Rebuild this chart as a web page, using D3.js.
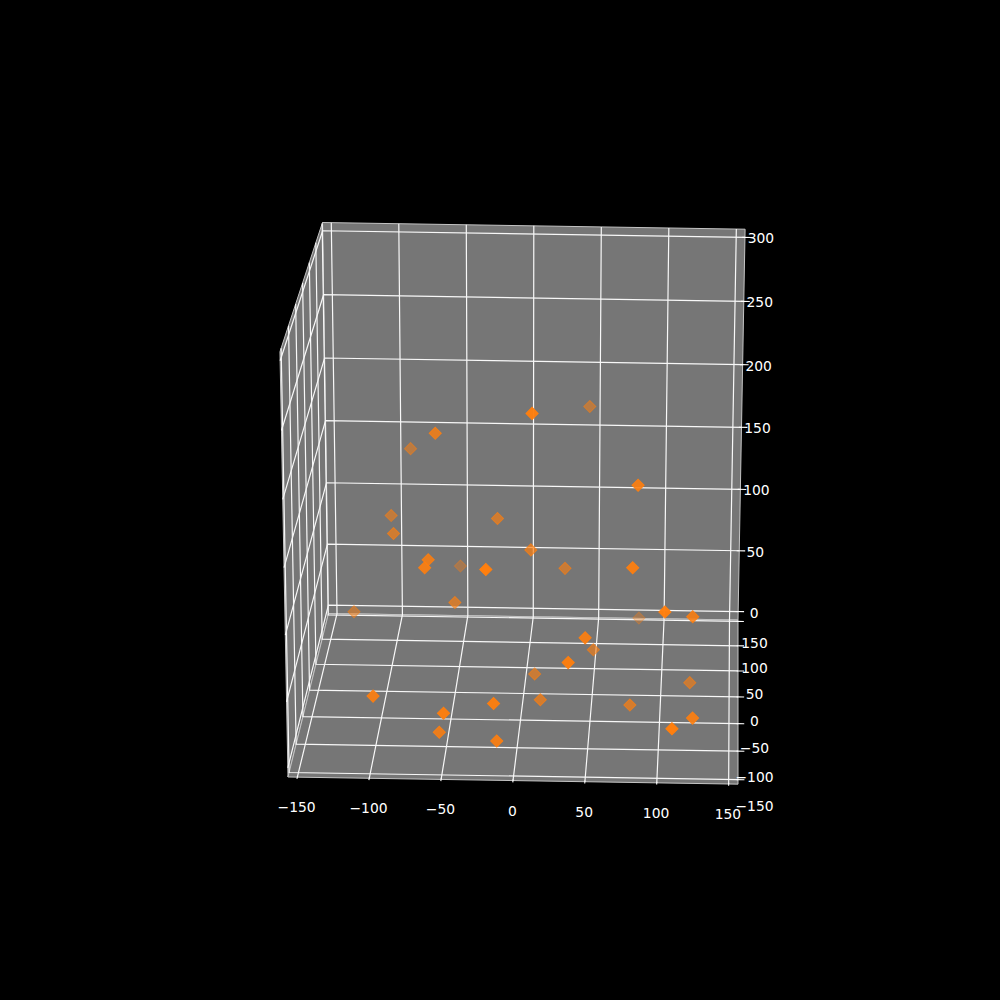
<!DOCTYPE html>
<html>
<head>
<meta charset="utf-8">
<script src="https://cdn.jsdelivr.net/npm/d3@7"></script>
<style>
  html, body { margin: 0; background: #000; }
  text { font-family: "DejaVu Sans"; font-size: 13.89px; fill: #fff; }
</style>
</head>
<body>
<svg id="chart" width="1000" height="1000"></svg>
<script>
// values, x / y / z of each marker
const pointX = [12, 45, -59, -86, 84, -99, -94, -19, 6, -63, -64, -54, -19, 29, 81, -50, -129,
  104, 123, 81, 48, 50, 37, 7, 121, -101, 13, -15, 78, -50, 124, 110, -56, -14];
const pointY = [-87, 114, -14, 114, -57, 93, 50, 50, 29, -36, -57, 179, -100, 71, -66, 50, 114,
  -91, -36, 191, -57, 71, -79, 71, 71, -57, 29, -79, 29, -79, -57, -100, -36, -57];
const pointZ = [258, 195, 217, 160, 196, 115, 117, 130, 114, 130, 132, 43, 148, 84, 138, 64, 30,
  115, 90, -2, 81, 20, 71, 0, -5, 34, -3, 39, -6, 31, 21, 31, -2, 1];

const xTicks = [-150, -100, -50, 0, 50, 100, 150];
const yTicks = [-100, -50, 0, 50, 100, 150, 200];
const yLabels = [-150, -100, -50, 0, 50, 100, 150];
const zTicks = [0, 50, 100, 150, 200, 250, 300];

const xLim = [-156.5, 156.5];
const yLim = [202.8, -107.8];   // back to front
const zLim = [-7, 306.4];

// box corners on the page, and the perspective weight of each axis
const corner0 = [328.5, 613.5];
const cornerX = [738, 620];
const cornerY = [288, 777];
const cornerZ = [322.5, 222.5];
const weightY = 0.91;
const weightZ = 0.969;

const scaleU = d3.scaleLinear().domain(xLim).range([0, 1]);
const scaleV = d3.scaleLinear().domain(yLim).range([0, 1]);
const scaleT = d3.scaleLinear().domain(zLim).range([0, 1]);
const depthAlpha = d3.scaleLinear().domain([200, -100]).range([0.3, 1]).clamp(true);

// 3d data position to page position
function project(x, y, z) {
  const u = scaleU(x), v = scaleV(y), t = scaleT(z);
  const w = 1 + (weightY - 1) * v + (weightZ - 1) * t;
  return [0, 1].map(i => (corner0[i]
    + u * (cornerX[i] - corner0[i])
    + v * (weightY * cornerY[i] - corner0[i])
    + t * (weightZ * cornerZ[i] - corner0[i])) / w);
}

const svg = d3.select("#chart");
const line = d3.line();
const [xa, xb] = xLim, [yb, ya] = yLim, [za, zb] = zLim;

function path3d(pts) {
  return line(pts.map(p => project(p[0], p[1], p[2])));
}

// panes
const panes = [
  [[xa, yb, za], [xb, yb, za], [xb, yb, zb], [xa, yb, zb]],
  [[xa, yb, za], [xa, ya, za], [xa, ya, zb], [xa, yb, zb]],
  [[xa, yb, za], [xb, yb, za], [xb, ya, za], [xa, ya, za]]
];
svg.append("g").selectAll("path")
  .data(panes)
  .join("path")
  .attr("d", d => path3d(d) + "Z")
  .attr("fill", "#767676")
  .attr("stroke", "#c4c4c4")
  .attr("stroke-width", 1);

// grid lines
const grid = [
  ...xTicks.map(x => [[x, ya, za], [x, yb, za], [x, yb, zb]]),
  ...yTicks.map(y => [[xb, y, za], [xa, y, za], [xa, y, zb]]),
  ...zTicks.map(z => [[xa, ya, z], [xa, yb, z], [xb, yb, z]])
];
svg.append("g").selectAll("path")
  .data(grid)
  .join("path")
  .attr("d", path3d)
  .attr("fill", "none")
  .attr("stroke", "#f8f8f8")
  .attr("stroke-width", 1.2);

// tick marks
const tickMarks = [
  ...xTicks.map(x => [[x, ya + 2, za], [x, ya - 3, za]]),
  ...yTicks.map(y => [[xb - 1, y, za], [xb + 4.5, y, za]]),
  ...zTicks.map(z => [[xb - 2, yb, z], [xb + 4.5, yb, z]])
];
svg.append("g").selectAll("path")
  .data(tickMarks)
  .join("path")
  .attr("d", path3d)
  .attr("fill", "none")
  .attr("stroke", "#fff")
  .attr("stroke-width", 1.1);

// tick labels
const minus = d => String(d).replace("-", "\u2212");
function addLabels(values, anchor, dx, dy) {
  svg.append("g").selectAll("text")
    .data(values)
    .join("text")
    .attr("x", d => project(...anchor(d))[0] + dx)
    .attr("y", d => project(...anchor(d))[1] + dy)
    .attr("text-anchor", "middle")
    .attr("dominant-baseline", "central")
    .text(minus);
}
addLabels(xTicks, x => [x, ya, za], -0.7, 30);
addLabels(yLabels, y => [xb, y, za], 16.5, -3);
addLabels(zTicks, z => [xb, yb, z], 16, 1);

// markers, far ones first
const order = d3.range(pointX.length).sort((a, b) => d3.descending(pointY[a], pointY[b]));
svg.append("g").selectAll("path")
  .data(order)
  .join("path")
  .attr("d", d3.symbol(d3.symbolSquare, 74))
  .attr("transform", i => {
    const p = project(pointX[i], pointY[i], pointZ[i]);
    return `translate(${p[0]},${p[1]}) rotate(45)`;
  })
  .attr("fill", "#ff7f0e")
  .attr("stroke", "#ff7f0e")
  .attr("stroke-width", 1)
  .attr("fill-opacity", i => depthAlpha(pointY[i]))
  .attr("stroke-opacity", i => depthAlpha(pointY[i]));
</script>
</body>
</html>
